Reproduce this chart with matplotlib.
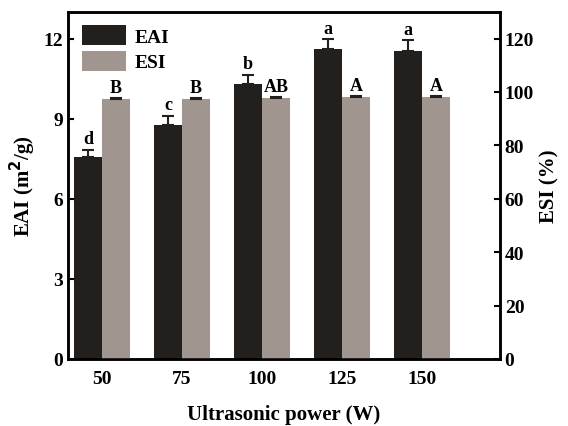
import numpy as np
import matplotlib.pyplot as plt

plt.rcParams['font.family'] = ['Liberation Serif', 'DejaVu Serif']
plt.rcParams['font.weight'] = 'bold'

powers = ['50', '75', '100', '125', '150']
eai = [7.55, 8.78, 10.31, 11.60, 11.55]
eai_err = [0.27, 0.32, 0.34, 0.37, 0.38]
esi = [97.3, 97.4, 97.8, 98.2, 98.1]
esi_err = [0.4, 0.4, 0.4, 0.4, 0.4]
eai_letters = ['d', 'c', 'b', 'a', 'a']
esi_letters = ['B', 'B', 'AB', 'A', 'A']

x = np.arange(len(powers))
w = 0.35
zeros = np.zeros(len(powers))

fig, ax = plt.subplots(figsize=(5.68, 4.27), dpi=100)
fig.subplots_adjust(left=0.12, right=0.88, top=0.97, bottom=0.157)
ax2 = ax.twinx()

b1 = ax.bar(x - w / 2, eai, w, color='#231f1c', yerr=[zeros, eai_err],
            error_kw=dict(ecolor='#231f1c', capsize=4, elinewidth=1.5, capthick=1.5),
            label='EAI', zorder=2)
b2 = ax2.bar(x + w / 2, esi, w, color='#a0958f', yerr=[zeros, esi_err],
             error_kw=dict(ecolor='#231f1c', capsize=4, elinewidth=1.5, capthick=1.5),
             label='ESI', zorder=2)

for i in range(len(x)):
    ax.text(x[i] - w / 2, eai[i] + eai_err[i] + 0.1, eai_letters[i],
            ha='center', va='bottom', fontsize=13, fontweight='bold')
    ax2.text(x[i] + w / 2, esi[i] + esi_err[i] + 0.8, esi_letters[i],
             ha='center', va='bottom', fontsize=13, fontweight='bold')

ax.set_xlim(-0.425, 4.975)
ax.set_ylim(0, 13)
ax2.set_ylim(0, 130)
ax.set_yticks([0, 3, 6, 9, 12])
ax2.set_yticks([0, 20, 40, 60, 80, 100, 120])
ax.set_xticks(x)
ax.set_xticklabels(powers)

for a in (ax, ax2):
    a.tick_params(direction='in', width=1.5, length=4, labelsize=14)
    for s in a.spines.values():
        s.set_linewidth(1.8)
ax.tick_params(axis='x', pad=8)

ax.set_xlabel('Ultrasonic power (W)', fontsize=15, fontweight='bold', labelpad=12)
ax.set_ylabel('EAI (m$^\\mathbf{2}$/g)', fontsize=15, fontweight='bold')
ax2.set_ylabel('ESI (%)', fontsize=15, fontweight='bold')

ax.legend([b1, b2], ['EAI', 'ESI'], loc='upper left', frameon=False,
          fontsize=14, handlelength=2.3, handleheight=1.2,
          borderaxespad=0.3, labelspacing=0.25, handletextpad=0.4)

plt.savefig('out.png', dpi=100)
